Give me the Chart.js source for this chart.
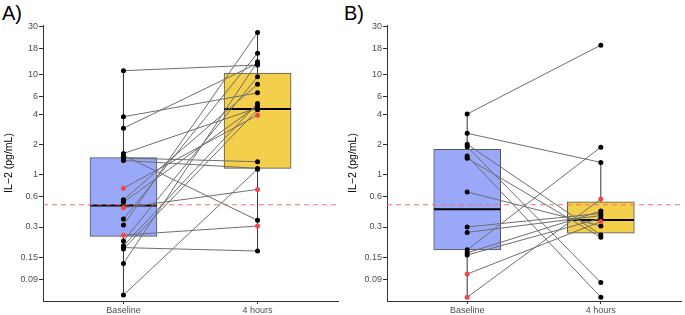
<!DOCTYPE html>
<html>
<head>
<meta charset="utf-8">
<script src="https://cdn.jsdelivr.net/npm/chart.js@4"></script>
<style>
  body { margin: 0; background: #fff; width: 685px; height: 315px; position: relative; overflow: hidden; }
  .panel { position: absolute; top: 0; }
  .tag { position: absolute; top: 3px; font: 20px "Liberation Sans", Arial, sans-serif; line-height: 1; color: #000; }
</style>
</head>
<body>
<div class="tag" style="left:2px">A)</div>
<div class="tag" style="left:344px">B)</div>
<canvas id="chartA" class="panel" style="left:0" width="342" height="315"></canvas>
<canvas id="chartB" class="panel" style="left:344px" width="341" height="315"></canvas>
<script>
// categories and axis ticks
const groups = ['Baseline', '4 hours'];
const yTicks = [0.09, 0.15, 0.3, 0.6, 1, 2, 4, 6, 10, 18, 30];
const cutoff = 0.5;

// panel A, paired subjects (same index = same subject)
const baseA = [10.8, 3.76, 2.89, 0.73, 0.467, 0.249, 0.063, 0.187, 1.55, 0.314, 0.36, 0.13, 0.218, 0.195, 0.181, 0.56, 0.53, 1.62, 1.46, 1.38];
const hourA = [12.3, 6.5, 12.8, 3.9, 0.71, 0.307, 1.13, 0.173, 0.35, 26, 16.1, 13.3, 9.4, 5.1, 4.4, 7.9, 4.85, 4.6, 1.34, 1.15];
const redA = [false, false, false, true, true, true, false, false, false, false, false, false, false, false, false, false, false, false, false, false];
// box stats: [whisker low, q1, median, q3, whisker high]
const boxBaseA = [0.063, 0.242, 0.49, 1.47, 10.8];
const boxHourA = [0.173, 1.15, 4.5, 10.2, 26];

// panel B
const baseB = [4.0, 2.57, 2.0, 1.89, 1.53, 1.45, 0.67, 0.30, 0.265, 0.178, 0.166, 0.158, 0.102, 0.060];
const hourB = [19.4, 1.32, 0.25, 0.084, 0.060, 0.237, 0.307, 0.41, 0.39, 1.87, 0.433, 0.366, 0.34, 0.57];
const redB = [false, false, false, false, false, false, false, false, false, false, false, false, true, true];
const boxBaseB = [0.060, 0.177, 0.45, 1.78, 4.0];
const boxHourB = [0.237, 0.26, 0.352, 0.535, 1.32];

const boxColors = ['#9aa8fa', '#f3cf4b'];
const font = '"Liberation Sans", Arial, sans-serif';

function makeDatasets(base, hour, red, boxes) {
    const ds = [];
    // points on top
    const pts = [], cols = [];
    base.forEach((v, i) => { pts.push({ x: 1, y: v }); cols.push(red[i] ? '#f04848' : '#000'); });
    hour.forEach((v, i) => { pts.push({ x: 2, y: v }); cols.push(red[i] ? '#f04848' : '#000'); });
    ds.push({ type: 'scatter', data: pts, pointRadius: 2.5, pointBorderWidth: 0, pointBackgroundColor: cols, order: 0 });
    // paired lines
    base.forEach((v, i) => {
        ds.push({ type: 'line', data: [{ x: 1, y: v }, { x: 2, y: hour[i] }], borderColor: '#6e6e6e', borderWidth: 1, pointRadius: 0, order: 1 });
    });
    // reference line
    ds.push({ type: 'line', data: [{ x: 0.4, y: cutoff }, { x: 2.6, y: cutoff }], borderColor: '#f27070', borderWidth: 1.2, borderDash: [5, 4], pointRadius: 0, order: 2 });
    boxes.forEach((b, i) => {
        const x = i + 1;
        ds.push({ type: 'line', data: [{ x: x - 0.248, y: b[2] }, { x: x + 0.248, y: b[2] }], borderColor: '#000', borderWidth: 2, pointRadius: 0, order: 3 });
        ds.push({ type: 'line', data: [{ x: x, y: b[0] }, { x: x, y: b[4] }], borderColor: '#333', borderWidth: 1, pointRadius: 0, order: 5 });
    });
    ds.push({ type: 'bar', data: boxes.map((b, i) => ({ x: i + 1, y: [b[1], b[3]] })), backgroundColor: boxColors, borderColor: '#555', borderWidth: 1, borderSkipped: false, barThickness: 67, order: 4 });
    return ds;
}

function makeChart(id, base, hour, red, boxes, padRight) {
    return new Chart(document.getElementById(id), {
        type: 'scatter',
        data: { datasets: makeDatasets(base, hour, red, boxes) },
        options: {
            responsive: false,
            animation: false,
            devicePixelRatio: 1,
            layout: { padding: { top: 25, right: padRight, left: 0, bottom: 0 } },
            plugins: { legend: { display: false }, tooltip: { enabled: false } },
            scales: {
                x: {
                    type: 'linear', min: 0.4, max: 2.6, offset: false,
                    afterBuildTicks: s => { s.ticks = [{ value: 1 }, { value: 2 }]; },
                    afterFit: s => { s.height = 14; },
                    ticks: { callback: v => groups[v - 1], font: { family: font, size: 9 }, color: '#4d4d4d', padding: 1, maxRotation: 0 },
                    grid: { offset: false, drawOnChartArea: false, tickLength: 3, tickColor: '#333' },
                    border: { color: '#333', width: 1 }
                },
                y: {
                    type: 'logarithmic', min: 0.055, max: 30.8,
                    afterBuildTicks: s => { s.ticks = yTicks.map(v => ({ value: v })); },
                    afterFit: s => { s.width = 43; },
                    ticks: { callback: v => String(v), font: { family: font, size: 9 }, color: '#4d4d4d', padding: 1 },
                    grid: { drawOnChartArea: false, tickLength: 4, tickColor: '#333' },
                    border: { color: '#333', width: 1 },
                    title: { display: true, text: 'IL\u22122 (pg/mL)', font: { family: font, size: 10.5 }, color: '#000', padding: { top: 3, bottom: 0 } }
                }
            }
        }
    });
}

makeChart('chartA', baseA, hourA, redA, [boxBaseA, boxHourA], 2);
makeChart('chartB', baseB, hourB, redB, [boxBaseB, boxHourB], 1);
</script>
</body>
</html>
